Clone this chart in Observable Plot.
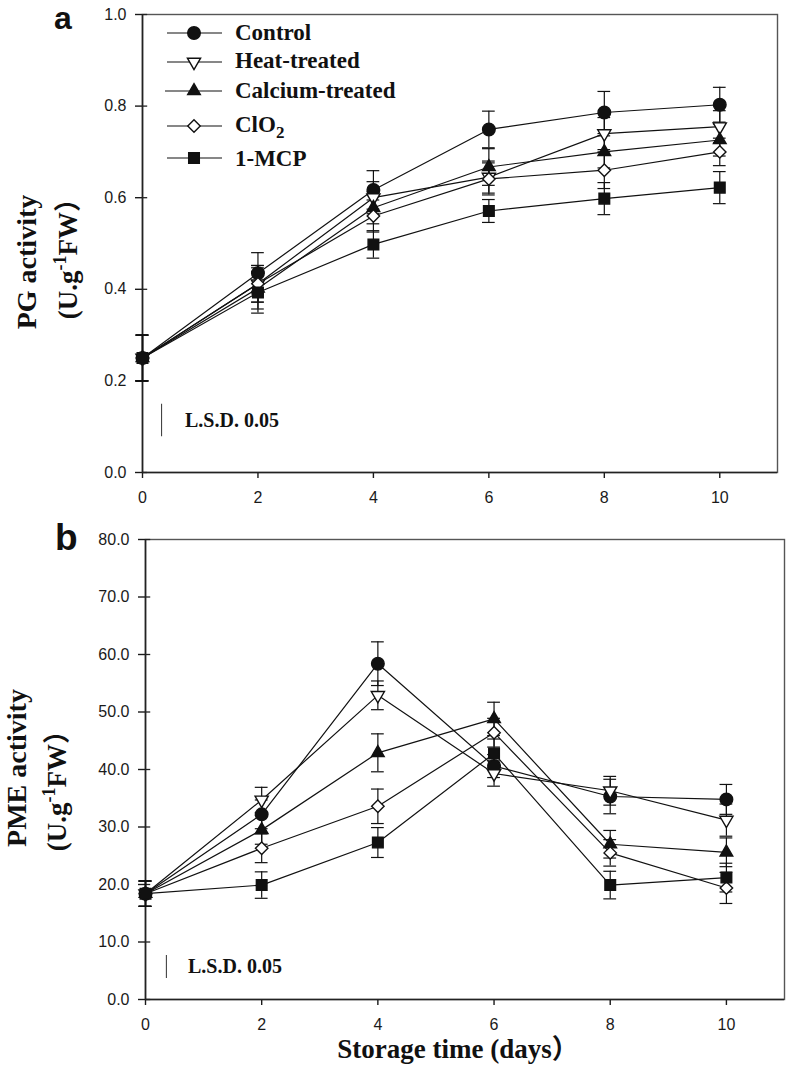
<!DOCTYPE html>
<html><head><meta charset="utf-8">
<script src="https://cdn.jsdelivr.net/npm/d3@7"></script>
<script src="https://cdn.jsdelivr.net/npm/@observablehq/plot@0.6"></script>
<style>
html,body{margin:0;padding:0;background:#fff;}
#wrap{position:relative;width:791px;height:1075px;overflow:hidden;background:#fff;}
#wrap svg{position:absolute;left:0;overflow:visible;}
</style></head><body><div id="wrap"></div>
<script>
// ---------- data ----------
const days = [0, 2, 4, 6, 8, 10];
const seriesNames = ["Control", "Heat-treated", "Calcium-treated", "ClO2", "1-MCP"];

// Panel a: PG activity (U.g-1 FW)
const pgControl  = [0.25, 0.435, 0.617, 0.749, 0.786, 0.803];
const pgHeat     = [0.25, 0.412, 0.600, 0.645, 0.740, 0.755];
const pgCalcium  = [0.25, 0.402, 0.578, 0.667, 0.700, 0.726];
const pgClO2     = [0.25, 0.412, 0.560, 0.641, 0.660, 0.700];
const pgMCP      = [0.25, 0.393, 0.498, 0.571, 0.598, 0.622];
const pgErrControl = [0.05, 0.045, 0.042, 0.040, 0.046, 0.038];
const pgErrHeat    = [0.05, 0.040, 0.035, 0.035, 0.035, 0.035];
const pgErrCalcium = [0.05, 0.045, 0.035, 0.040, 0.035, 0.035];
const pgErrClO2    = [0.05, 0.040, 0.035, 0.035, 0.040, 0.030];
const pgErrMCP     = [0.05, 0.045, 0.030, 0.025, 0.035, 0.035];

// Panel b: PME activity (U.g-1 FW)
const pmeControl = [18.4, 32.2, 58.4, 40.6, 35.3, 34.8];
const pmeHeat    = [18.4, 34.7, 52.9, 39.3, 36.3, 31.2];
const pmeCalcium = [18.4, 29.5, 42.9, 48.8, 27.0, 25.6];
const pmeClO2    = [18.4, 26.3, 33.6, 46.4, 25.5, 19.4];
const pmeMCP     = [18.4, 19.9, 27.3, 42.8, 19.9, 21.2];
const pmeErrControl = [2.2, 2.5, 3.8, 2.0, 3.0, 2.6];
const pmeErrHeat    = [2.2, 2.2, 2.5, 2.2, 2.5, 2.8];
const pmeErrCalcium = [2.2, 2.5, 3.3, 2.9, 2.4, 2.5];
const pmeErrClO2    = [2.2, 2.5, 3.0, 2.5, 2.3, 2.7];
const pmeErrMCP     = [2.2, 2.3, 2.6, 2.5, 2.4, 2.5];

const xTicks = [0, 2, 4, 6, 8, 10];
const yTicksPG = [0, 0.2, 0.4, 0.6, 0.8, 1.0];
const yTicksPME = [0, 10, 20, 30, 40, 50, 60, 70, 80];
const lsdPG = [0.071];
const lsdPME = [4.0];

// ---------- styles ----------
const markerStyles = [
  {name: "Control",         symbol: "circle",   fill: "#111",  r: 6.3, rotate: 0},
  {name: "Heat-treated",    symbol: "triangle", fill: "white", r: 4.9, rotate: 180},
  {name: "Calcium-treated", symbol: "triangle", fill: "#111",  r: 4.7, rotate: 0},
  {name: "ClO2",            symbol: "diamond2", fill: "white", r: 5.6, rotate: 0},
  {name: "1-MCP",           symbol: "square",   fill: "#111",  r: 6.0, rotate: 0}
];
const SERIF = "'Liberation Serif','Times New Roman',Times,'Noto Sans CJK SC',serif";
const SANS = "'Liberation Sans',Arial,Helvetica,sans-serif";

function rowsOf(values, errors) {
  const out = [];
  seriesNames.forEach((s, i) => days.forEach((d, j) => out.push({series: s, day: d, v: values[i][j], e: errors[i][j]})));
  return out;
}

function panel(cfg) {
  const data = rowsOf(cfg.values, cfg.errors);
  const ink = "#111";
  const marks = [
    Plot.frame({stroke: "#555", strokeWidth: 1.4}),
    Plot.ruleY(cfg.yTicks, {x1: 0, x2: 0.09, stroke: "#222", strokeWidth: 1.3}),
    Plot.axisX({ticks: xTicks, tickSize: 6, tickPadding: 13, tickFormat: d => String(d), label: null, fontSize: 16, strokeWidth: 1.4}),
    Plot.axisY({ticks: cfg.yTicks, tickSize: 7, tickPadding: 9, tickFormat: cfg.fmt, label: null, fontSize: 16, strokeWidth: 1.4}),
    Plot.ruleX([0], {stroke: "#222", strokeWidth: 1.6}),
    Plot.ruleY([0], {stroke: "#222", strokeWidth: 1.6}),
    Plot.ruleX(cfg.lsd, {x: cfg.lsdX, y1: cfg.lsdY0, y2: d => cfg.lsdY0 + d, stroke: "#444", strokeWidth: 1.1}),
    Plot.line(data, {x: "day", y: "v", z: "series", stroke: ink, strokeWidth: 1.2}),
    Plot.ruleX(data, {x: "day", y1: d => d.v - d.e, y2: d => d.v + d.e, stroke: ink, strokeWidth: 1.2}),
    Plot.ruleY(data, {y: d => d.v + d.e, x1: d => d.day - 0.11, x2: d => d.day + 0.11, stroke: ink, strokeWidth: 1.2}),
    Plot.ruleY(data, {y: d => d.v - d.e, x1: d => d.day - 0.11, x2: d => d.day + 0.11, stroke: ink, strokeWidth: 1.2}),
    ...markerStyles.map(st => Plot.dot(data.filter(d => d.series === st.name), {
      x: "day", y: "v", symbol: st.symbol, r: st.r, fill: st.fill, stroke: ink, strokeWidth: 1.4, rotate: st.rotate
    }))
  ];
  return Plot.plot({
    width: 791, height: cfg.height,
    marginTop: cfg.mt, marginBottom: cfg.mb, marginLeft: cfg.ml, marginRight: cfg.mr,
    x: {domain: [0, 11]},
    y: {domain: cfg.yDomain},
    style: {fontFamily: SANS, fontSize: "16px", color: "#1a1a1a", background: "transparent"},
    marks
  });
}

function addText(svg, o) {
  const t = d3.select(svg).append("text")
    .attr("transform", `translate(${o.x},${o.y})` + (o.rotate ? ` rotate(${o.rotate})` : ""))
    .attr("text-anchor", o.anchor || "start")
    .attr("font-family", o.family || SERIF)
    .attr("font-weight", o.weight || "bold")
    .attr("font-size", o.size)
    .attr("fill", "#111");
  (o.parts || [{t: o.text}]).forEach(p => {
    const s = t.append("tspan").text(p.t);
    if (p.dy) s.attr("dy", p.dy);
    if (p.size) s.attr("font-size", p.size);
  });
  return t;
}

function unitParts(size) {
  const sup = Math.round(size * 0.68);
  return [
    {t: "(U.g"},
    {t: "-1", size: sup, dy: -size * 0.42},
    {t: "FW", dy: size * 0.42},
    {t: "\uFF09"}
  ];
}

const wrap = document.getElementById("wrap");

// ---------- panel a ----------
const svgA = panel({
  values: [pgControl, pgHeat, pgCalcium, pgClO2, pgMCP],
  errors: [pgErrControl, pgErrHeat, pgErrCalcium, pgErrClO2, pgErrMCP],
  yDomain: [0, 1], yTicks: yTicksPG, fmt: d3.format(".1f"),
  height: 505, mt: 14, mb: 33, ml: 142, mr: 14,
  lsd: lsdPG, lsdX: 0.33, lsdY0: 0.078
});
svgA.style.top = "0px";
wrap.appendChild(svgA);

addText(svgA, {x: 54, y: 29, text: "a", size: 32, family: SANS});
addText(svgA, {x: 36, y: 262, rotate: -90, anchor: "middle", size: 28, text: "PG activity"});
addText(svgA, {x: 77, y: 252, rotate: -90, anchor: "middle", size: 27, parts: unitParts(27)});
addText(svgA, {x: 185, y: 427, size: 20, text: "L.S.D. 0.05"});

// legend
const legendRows = [33, 62, 91, 126, 158];
const legendBase = [40, 68, 98, 132, 166];
const lg = d3.select(svgA).append("g");
markerStyles.forEach((st, i) => {
  const y = legendRows[i];
  lg.append("line").attr("x1", i === 2 ? 165 : 167).attr("x2", 222).attr("y1", y).attr("y2", y)
    .attr("stroke", "#111").attr("stroke-width", 1.2);
  const symType = {circle: d3.symbolCircle, triangle: d3.symbolTriangle, diamond2: d3.symbolDiamond2, square: d3.symbolSquare}[st.symbol];
  lg.append("path").attr("d", d3.symbol(symType, Math.PI * st.r * st.r)())
    .attr("transform", `translate(194,${y}) rotate(${st.rotate})`)
    .attr("fill", st.fill).attr("stroke", "#111").attr("stroke-width", 1.4);
  const parts = st.name === "ClO2" ? [{t: "ClO"}, {t: "2", size: 17, dy: 6}] : [{t: st.name}];
  addText(svgA, {x: 235, y: legendBase[i], size: 23, parts});
});

// ---------- panel b ----------
const OFF = 505;
const svgB = panel({
  values: [pmeControl, pmeHeat, pmeCalcium, pmeClO2, pmeMCP],
  errors: [pmeErrControl, pmeErrHeat, pmeErrCalcium, pmeErrClO2, pmeErrMCP],
  yDomain: [0, 80], yTicks: yTicksPME, fmt: d3.format(".1f"),
  height: 1075 - OFF, mt: 539 - OFF, mb: 76, ml: 145, mr: 7,
  lsd: lsdPME, lsdX: 0.36, lsdY0: 3.65
});
svgB.style.top = OFF + "px";
wrap.appendChild(svgB);

addText(svgB, {x: 55, y: 550 - OFF, text: "b", size: 37, family: SANS});
addText(svgB, {x: 26, y: 768 - OFF, rotate: -90, anchor: "middle", size: 28, text: "PME activity"});
addText(svgB, {x: 66, y: 784 - OFF, rotate: -90, anchor: "middle", size: 27, parts: unitParts(27)});
addText(svgB, {x: 188, y: 973 - OFF, size: 20, text: "L.S.D. 0.05"});
addText(svgB, {x: 458, y: 1058 - OFF, anchor: "middle", size: 27, text: "Storage time (days\uFF09"});
</script>
</body></html>
